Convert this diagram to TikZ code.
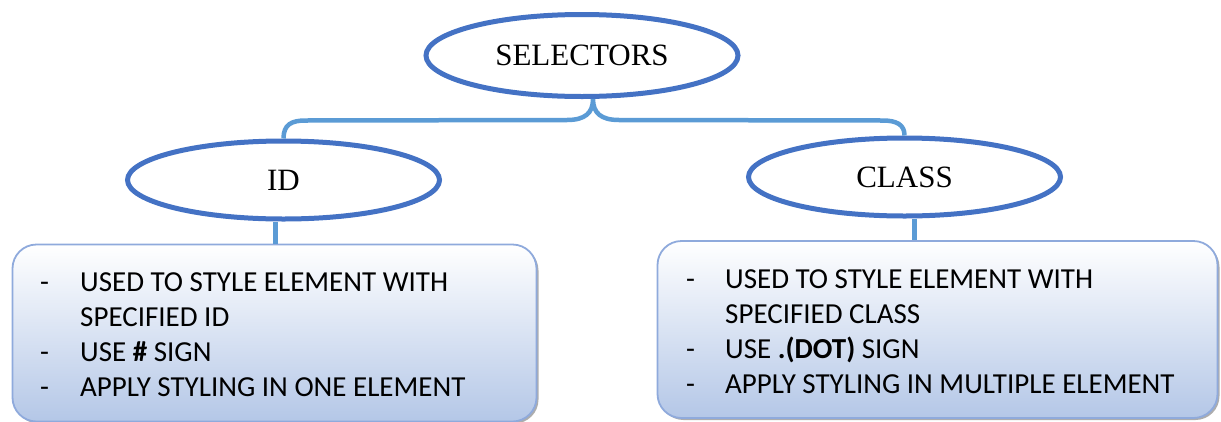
\documentclass[tikz,border=0pt]{standalone}
\usepackage{fontspec}
\setmainfont{Liberation Serif}
\newfontfamily\calfont{Carlito}
\usetikzlibrary{shapes.geometric,shadows,calc}
\definecolor{ellblue}{HTML}{4472C4}
\definecolor{linkblue}{HTML}{5B9BD5}
\definecolor{boxedge}{HTML}{8FAADC}
\definecolor{boxfill}{HTML}{B4C7E7}
\begin{document}
\begin{tikzpicture}[x=1pt,y=-1pt,
  ell/.style={ellipse,draw=ellblue,line width=5pt,fill=white,minimum width=312pt,minimum height=78pt,font=\fontsize{31}{31}\selectfont,inner sep=0pt},
  link/.style={draw=linkblue,line width=4.5pt},
  infobox/.style={rectangle,rounded corners=24pt,draw=boxedge,line width=1.8pt,top color=white,bottom color=boxfill,drop shadow={shadow xshift=2pt,shadow yshift=-2pt,fill=black!40,opacity=0.8},inner sep=0pt},
  info/.style={anchor=north west,align=left,font=\calfont\fontsize{29}{35}\selectfont,inner sep=0pt}]
\useasboundingbox (0,0) rectangle (1221,421);
% boxes
\node[infobox,minimum width=524pt,minimum height=177pt] (idbox) at (274.5,333) {};
\node[infobox,minimum width=560pt,minimum height=177pt] (clsbox) at (937.5,329.5) {};
% ellipses
\node[ell,minimum height=82pt] (sel) at (582,55.5) {SELECTORS};
\node[ell] (id) at (283.5,180) {ID};
\node[ell] (cls) at (904.5,177) {CLASS};
% brace
\coordinate (tip) at ($(sel.south)+(11,0)$);
\draw[link] (id.north) .. controls ($(id.north)+(0,-14)$) and ($(id.north)+(8,-18)$) .. ($(id.north)+(22,-18)$)
  -- ($(tip)+(-26,21)$) .. controls ($(tip)+(-8,21)$) and ($(tip)+(0,14)$) .. (tip)
  .. controls ($(tip)+(0,14)$) and ($(tip)+(8,21)$) .. ($(tip)+(26,21)$)
  -- ($(cls.north)+(-22,-15)$) .. controls ($(cls.north)+(-8,-15)$) and ($(cls.north)+(0,-11)$) .. (cls.north);
% connectors
\draw[link] ([xshift=-8pt]id.south) -- ([xshift=-8pt]id.south |- idbox.north);
\draw[link] ([xshift=10pt]cls.south) -- ([xshift=10pt]cls.south |- clsbox.north);
% texts
\node[info] (idtext) at (40,272) {\makebox[40pt][l]{-}USED TO STYLE ELEMENT WITH\\\makebox[40pt][l]{}SPECIFIED ID\\\makebox[40pt][l]{-}USE \textbf{\#} SIGN\\\makebox[40pt][l]{-}APPLY STYLING IN ONE ELEMENT};
\node[info] (clstext) at (686,269) {\makebox[39pt][l]{-}USED TO STYLE ELEMENT WITH\\\makebox[39pt][l]{}SPECIFIED CLASS\\\makebox[39pt][l]{-}USE \textbf{.(DOT)} SIGN\\\makebox[39pt][l]{-}APPLY STYLING IN MULTIPLE ELEMENT};
\end{tikzpicture}
\end{document}
